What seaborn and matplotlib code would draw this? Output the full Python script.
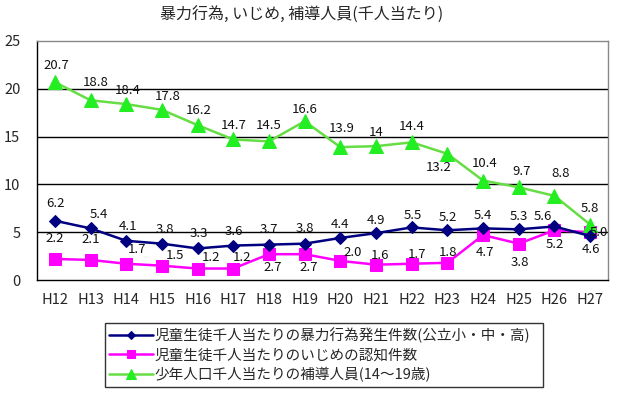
import numpy as np
import pandas as pd
import matplotlib
matplotlib.use("Agg")
import matplotlib.pyplot as plt
import seaborn as sns

# ---- data ----
years = ["H12", "H13", "H14", "H15", "H16", "H17", "H18", "H19",
         "H20", "H21", "H22", "H23", "H24", "H25", "H26", "H27"]
violence = [6.2, 5.4, 4.1, 3.8, 3.3, 3.6, 3.7, 3.8, 4.4, 4.9, 5.5, 5.2, 5.4, 5.3, 5.6, 4.6]
bullying = [2.2, 2.1, 1.7, 1.5, 1.2, 1.2, 2.7, 2.7, 2.0, 1.6, 1.7, 1.8, 4.7, 3.8, 5.2, 5.0]
guidance = [20.7, 18.8, 18.4, 17.8, 16.2, 14.7, 14.5, 16.6, 13.9, 14.0, 14.4, 13.2, 10.4, 9.7, 8.8, 5.8]
violence_lbl = ["6.2", "5.4", "4.1", "3.8", "3.3", "3.6", "3.7", "3.8", "4.4", "4.9", "5.5", "5.2", "5.4", "5.3", "5.6", "4.6"]
bullying_lbl = ["2.2", "2.1", "1.7", "1.5", "1.2", "1.2", "2.7", "2.7", "2.0", "1.6", "1.7", "1.8", "4.7", "3.8", "5.2", "5.0"]
guidance_lbl = ["20.7", "18.8", "18.4", "17.8", "16.2", "14.7", "14.5", "16.6", "13.9", "14", "14.4", "13.2", "10.4", "9.7", "8.8", "5.8"]
series_names = ["児童生徒千人当たりの暴力行為発生件数(公立小・中・高)",
                "児童生徒千人当たりのいじめの認知件数",
                "少年人口千人当たりの補導人員(14～19歳)"]
title = "暴力行為, いじめ, 補導人員(千人当たり)"
yticks = [0, 5, 10, 15, 20, 25]

# ---- label offsets (pixels, dx, dy) ----
v_off = [(1, 17), (8, 14), (2, 14), (3, 14), (1, 15), (1, 14), (0, 15), (0, 15),
         (0, 13), (0, 13), (1, 12), (0, 13), (0, 13), (0, 13), (-12, 10), (1, -13)]
b_off = [(0, 20), (0, 20), (11, 14), (13, 10), (13, 11), (9, 11), (4, -13), (4, -13),
         (12, 8), (4, 9), (5, 9), (1, 10), (2, -17), (1, -19), (0, -14), (9, 0)]
g_off = [(2, 17), (5, 18), (2, 14), (6, 13), (1, 15), (0, 14), (0, 16), (0, 12),
         (1, 19), (0, 14), (0, 16), (-9, -14), (2, 17), (3, 16), (6, 22), (0, 16)]

sns.set_theme(style="white")
plt.rcParams["font.family"] = ["Noto Sans CJK JP", "DejaVu Sans"]

W, H = 629, 395
fig = plt.figure(figsize=(W / 100, H / 100), dpi=100)
ax = fig.add_axes([37 / W, (H - 280) / H, 571 / W, 239 / H])

pos = np.arange(len(years))
df = pd.DataFrame({"pos": pos, "v": violence, "b": bullying, "g": guidance})

sns.lineplot(data=df, x="pos", y="v", ax=ax, color="#000080", lw=1.8,
             marker="D", markersize=6.5, markeredgecolor="#000080",
             markerfacecolor="#000080", label=series_names[0], zorder=4)
sns.lineplot(data=df, x="pos", y="b", ax=ax, color="#ff00ff", lw=1.8,
             marker="s", markersize=9, markeredgecolor="#ff00ff",
             markerfacecolor="#ff00ff", label=series_names[1], zorder=3)
sns.lineplot(data=df, x="pos", y="g", ax=ax, color="#66dd44", lw=1.8,
             marker="^", markersize=10, markeredgecolor="#22ee22",
             markerfacecolor="#22ee22", label=series_names[2], zorder=3)

for vals, lbls, offs in [(violence, violence_lbl, v_off),
                         (bullying, bullying_lbl, b_off),
                         (guidance, guidance_lbl, g_off)]:
    for p, v, t, (dx, dy) in zip(pos, vals, lbls, offs):
        ax.annotate(t, (p, v), xytext=(dx, dy), textcoords="offset pixels",
                    ha="center", va="center", fontsize=9.5, color="#111111", zorder=6,
                    annotation_clip=False)

ax.set_xlim(-0.5, len(years) - 0.5)
ax.set_ylim(0, 25)
ax.set_yticks(yticks)
ax.set_yticklabels([str(t) for t in yticks], fontsize=10.5)
ax.set_xticks(pos)
ax.set_xticklabels(years, fontsize=10.5)
ax.set_xticks(np.arange(len(years) + 1) - 0.5, minor=True)
ax.tick_params(axis="x", which="major", length=0, pad=9)
ax.tick_params(axis="x", which="minor", length=4, direction="in", width=1, color="black")
ax.tick_params(axis="y", which="major", length=0, pad=12)
ax.set_xlabel("")
ax.set_ylabel("")
for y in yticks[1:-1]:
    ax.axhline(y, color="black", lw=1, zorder=1)
ax.grid(False)
for s in ["left", "bottom"]:
    ax.spines[s].set_color("black")
    ax.spines[s].set_linewidth(1)
for s in ["top", "right"]:
    ax.spines[s].set_color("#888888")
    ax.spines[s].set_linewidth(1)

fig.text(302 / W, 1 - 15 / H, title, ha="center", va="center", fontsize=11.5)

ax.get_legend().remove()
h, l = ax.get_legend_handles_labels()
leg = fig.legend(h, l, loc="upper left",
                 bbox_to_anchor=(105 / W, (H - 388) / H, 438 / W, 65 / H),
                 mode="expand", fontsize=10.5, frameon=True, fancybox=False,
                 borderpad=0.3, handlelength=3.0, handletextpad=0.1,
                 labelspacing=0.35, borderaxespad=0, markerscale=0.7)
leg.get_frame().set_edgecolor("black")
leg.get_frame().set_linewidth(1)

fig.savefig("out.png", dpi=100)
